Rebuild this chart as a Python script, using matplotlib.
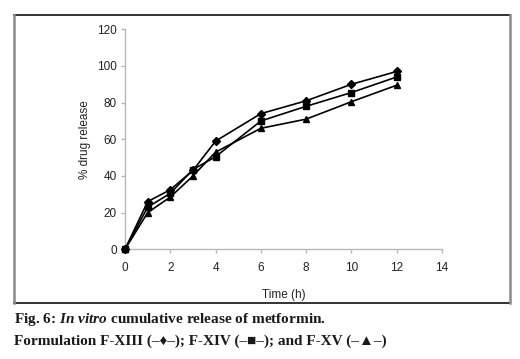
import matplotlib
matplotlib.use("Agg")
import matplotlib.pyplot as plt
from matplotlib.lines import Line2D

time_h = [0, 1, 2, 3, 4, 6, 8, 10, 12]
f_xiii = [0, 26, 32.5, 43, 59, 74, 81, 90, 97]
f_xiv = [0, 23, 30.5, 43.5, 50.5, 70, 78, 85.5, 94]
f_xv = [0, 20, 28.5, 40, 53, 66, 71, 80.5, 89.5]
xticks = [0, 2, 4, 6, 8, 10, 12, 14]
yticks = [0, 20, 40, 60, 80, 100, 120]

plt.rcParams['font.family'] = ['Liberation Sans', 'DejaVu Sans']
plt.rcParams['mathtext.fontset'] = 'custom'
plt.rcParams['mathtext.it'] = 'Liberation Serif:italic:bold'
plt.rcParams['mathtext.rm'] = 'Liberation Serif:bold'
plt.rcParams['mathtext.bf'] = 'Liberation Serif:bold'

fig = plt.figure(figsize=(5.2, 3.59), dpi=100)
W, H = 520, 359
ax = fig.add_axes([125 / W, 1 - 249.3 / H, (442 - 125) / W, (249.3 - 29.3) / H])

ax.plot(time_h, f_xiii, color='black', lw=1.2, marker='D', ms=4.5, clip_on=False, zorder=5)
ax.plot(time_h, f_xiv, color='black', lw=1.2, marker='s', ms=5, clip_on=False, zorder=5)
ax.plot(time_h, f_xv, color='black', lw=1.2, marker='^', ms=5, clip_on=False, zorder=5)

ax.set_xlim(0, 14)
ax.set_ylim(0, 120)
ax.set_xticks(xticks)
ax.set_yticks(yticks)
for s in ['top', 'right']:
    ax.spines[s].set_visible(False)
for s in ['left', 'bottom']:
    ax.spines[s].set_color('#b8b8b8')
    ax.spines[s].set_linewidth(1.0)
ax.tick_params(axis='both', colors='#b8b8b8', labelcolor='#222222', length=3, width=1.0, labelsize=8.5, pad=3)
ax.tick_params(axis='x', pad=6)
ax.set_xlabel('Time (h)', fontsize=8.5, color='#222222', labelpad=11)
ax.set_ylabel('% drug release', fontsize=8.5, color='#222222', labelpad=4)

# outer frame
fig.add_artist(Line2D([14 / W, 510 / W], [1 - 15 / H, 1 - 15 / H], color='#111111', lw=1.2, transform=fig.transFigure))
fig.add_artist(Line2D([14 / W, 510 / W], [1 - 303 / H, 1 - 303 / H], color='#111111', lw=1.2, transform=fig.transFigure))
fig.add_artist(Line2D([14 / W, 14 / W], [1 - 15 / H, 1 - 303 / H], color='#8a8a8a', lw=1.8, transform=fig.transFigure))
fig.add_artist(Line2D([510 / W, 510 / W], [1 - 15 / H, 1 - 303 / H], color='#8a8a8a', lw=1.8, transform=fig.transFigure))

serif = ['Liberation Serif', 'DejaVu Serif', 'DejaVu Sans']
fig.text(14 / W, 1 - 319 / H, r'Fig. 6: $\mathit{In\ vitro}$ cumulative release of metformin.',
         fontsize=11, fontweight='bold', family=serif, va='center', ha='left', color='#1a1a1a')
fig.text(14 / W, 1 - 341 / H, 'Formulation F-XIII (–♦–); F-XIV (–■–); and F-XV (–▲–)',
         fontsize=11, fontweight='bold', family=serif, va='center', ha='left', color='#1a1a1a')

fig.savefig('out.png', dpi=100)
